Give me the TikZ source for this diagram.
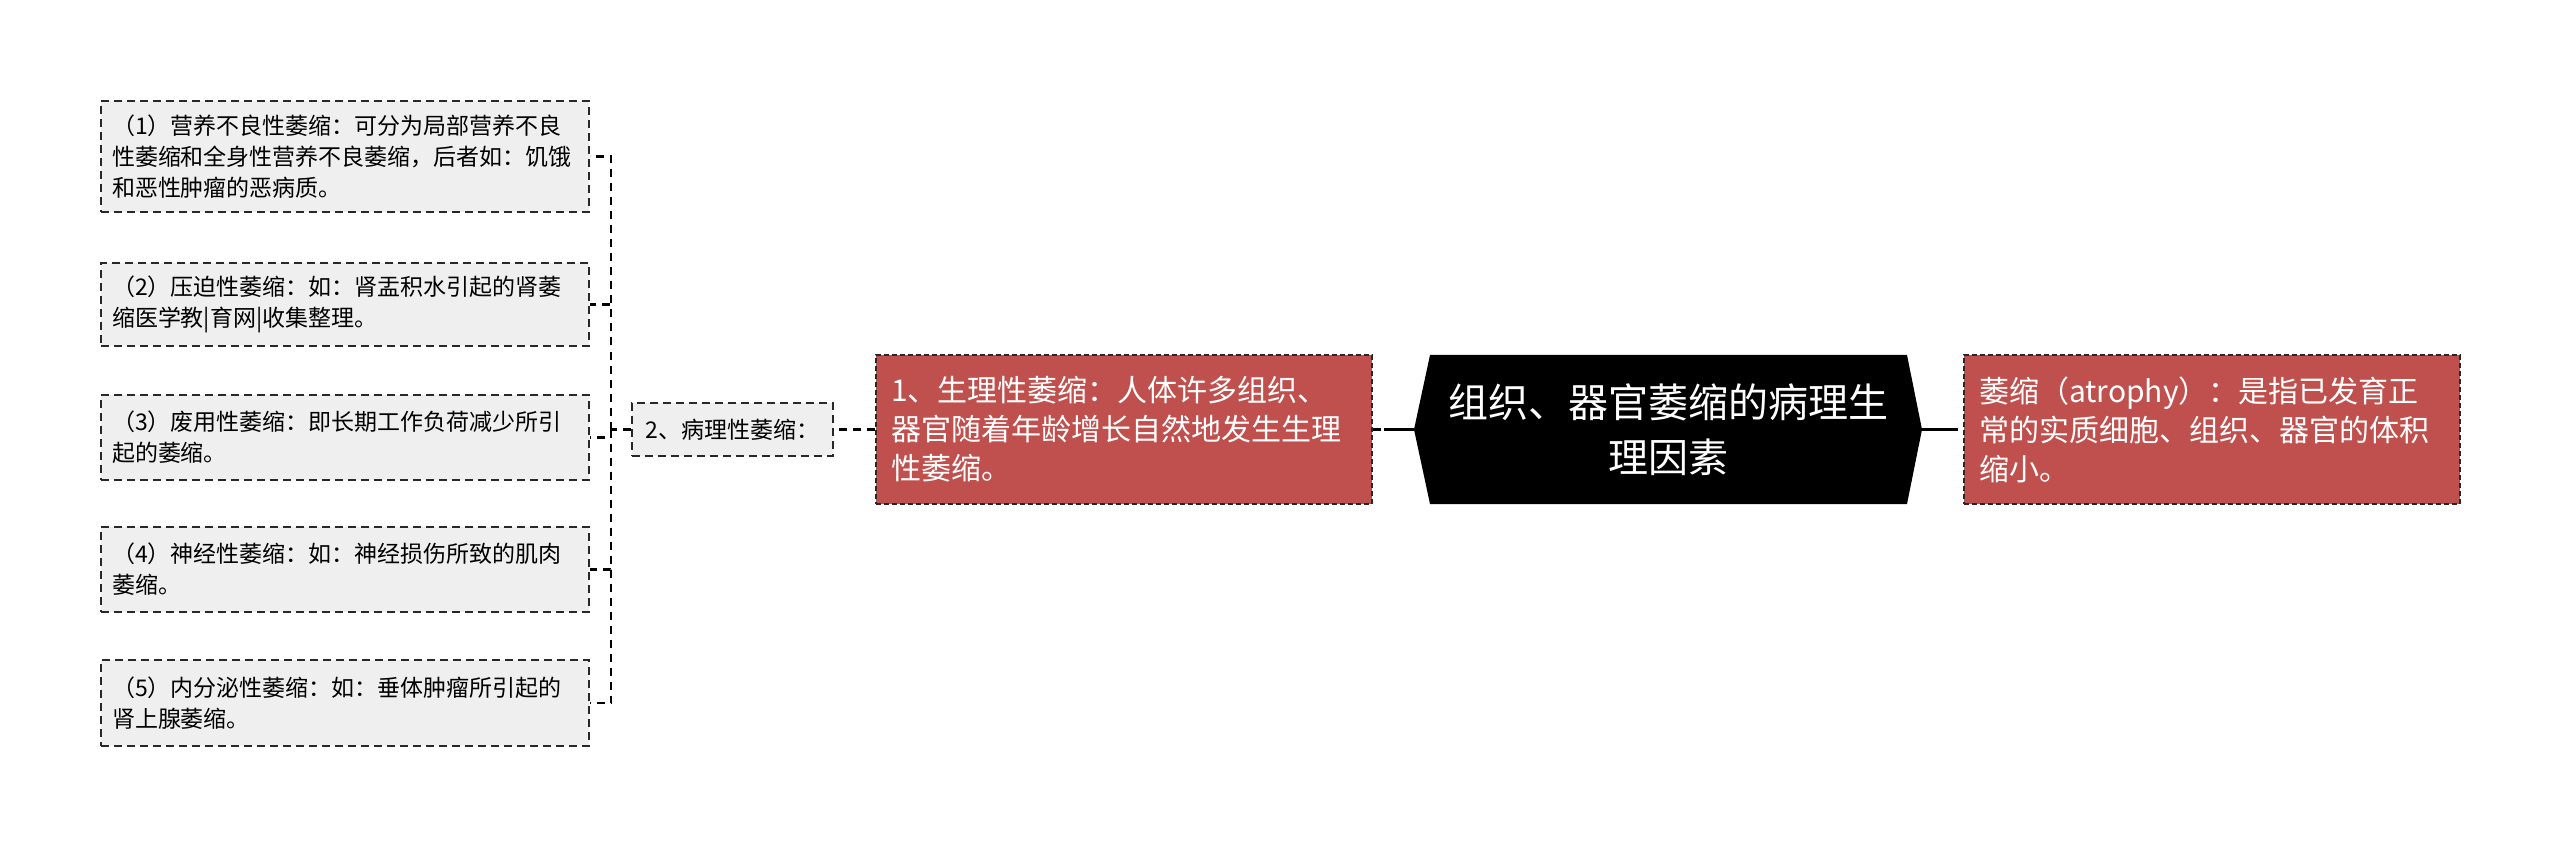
\documentclass[tikz,border=0pt]{standalone}
\usepackage{fontspec}
\setmainfont{Noto Sans CJK SC}
\usepackage{xcolor}
\usetikzlibrary{positioning}
\definecolor{boxred}{RGB}{192,80,77}
\definecolor{boxgray}{RGB}{239,239,239}
\definecolor{edgegray}{RGB}{40,40,40}

\tikzset{
  subbox/.style={draw=edgegray, fill=boxgray, line width=1pt, dash pattern=on 4pt off 2.5pt,
    text width=233pt, align=left, inner xsep=5.5pt, inner ysep=0pt,
    font=\fontsize{11.5}{15.5}\selectfont},
  catbox/.style={draw=edgegray, fill=boxgray, line width=1pt, dash pattern=on 4pt off 2.5pt,
    minimum width=100.5pt, minimum height=26.5pt, inner sep=0pt,
    font=\fontsize{11.5}{15.5}\selectfont},
  redbox/.style={draw=edgegray, fill=boxred, text=white, line width=0.9pt, dash pattern=on 2.5pt off 1.5pt,
    text width=233pt, align=left, inner xsep=7.5pt, inner ysep=0pt, minimum height=74.5pt,
    font=\fontsize{15}{19.5}\selectfont},
  link/.style={black, line width=1.2pt, dash pattern=on 4pt off 3pt},
  rootlink/.style={black, line width=1.5pt}
}

\begin{document}
\begin{tikzpicture}[x=0.5pt, y=-0.5pt]
\useasboundingbox (0,0) rectangle (2560,845);

% central topic
\coordinate (rootL) at (1414,429.5);
\coordinate (rootR) at (1922,429.5);
\fill[black] (rootL) -- (1430,355) -- (1907,355) -- (rootR) -- (1907,504) -- (1430,504) -- cycle;
\node[text=white, align=center, font=\fontsize{20}{27.5}\selectfont] (root) at (1668,429.5)
  {组织、器官萎缩的病理生\\理因素};

% right branch
\node[redbox] (def) at (2212,429.5)
  {萎缩（atrophy）：是指已发育正\\常的实质细胞、组织、器官的体积\\缩小。};

% left branch
\node[redbox] (phys) at (1124,429.5)
  {1、生理性萎缩：人体许多组织、\\器官随着年龄增长自然地发生生理\\性萎缩。};
\node[catbox] (cat) at (732.5,429.5) {2、病理性萎缩：};

\node[subbox, minimum height=55.5pt] (atr1) at (345,156.5)
  {（1）营养不良性萎缩：可分为局部营养不良\\性萎缩和全身性营养不良萎缩，后者如：饥饿\\和恶性肿瘤的恶病质。};
\node[subbox, minimum height=41.5pt] (atr2) at (345,304.5)
  {（2）压迫性萎缩：如：肾盂积水引起的肾萎\\缩医学教|育网|收集整理。};
\node[subbox, minimum height=42.5pt] (atr3) at (345,437.5)
  {（3）废用性萎缩：即长期工作负荷减少所引\\起的萎缩。};
\node[subbox, minimum height=42.5pt] (atr4) at (345,569.5)
  {（4）神经性萎缩：如：神经损伤所致的肌肉\\萎缩。};
\node[subbox, minimum height=43pt] (atr5) at (345,703)
  {（5）内分泌性萎缩：如：垂体肿瘤所引起的\\肾上腺萎缩。};

% connectors
\coordinate (rootLs) at (1384,429.5);
\coordinate (rootRs) at (1950,429.5);
\coordinate (fork) at (611,429.5);

\draw[link] (phys.east) -- (rootL);
\draw[rootlink] (rootL) -- (rootLs);
\draw[link] (rootR) -- (def.west);
\draw[rootlink] (rootR) -- (rootRs);
\draw[link] (phys.west) -- (cat.east);
\draw[link] (cat.west) -- (fork);
\foreach \i in {1,...,5}
  \draw[link] (fork) |- (atr\i.east);
\end{tikzpicture}
\end{document}
